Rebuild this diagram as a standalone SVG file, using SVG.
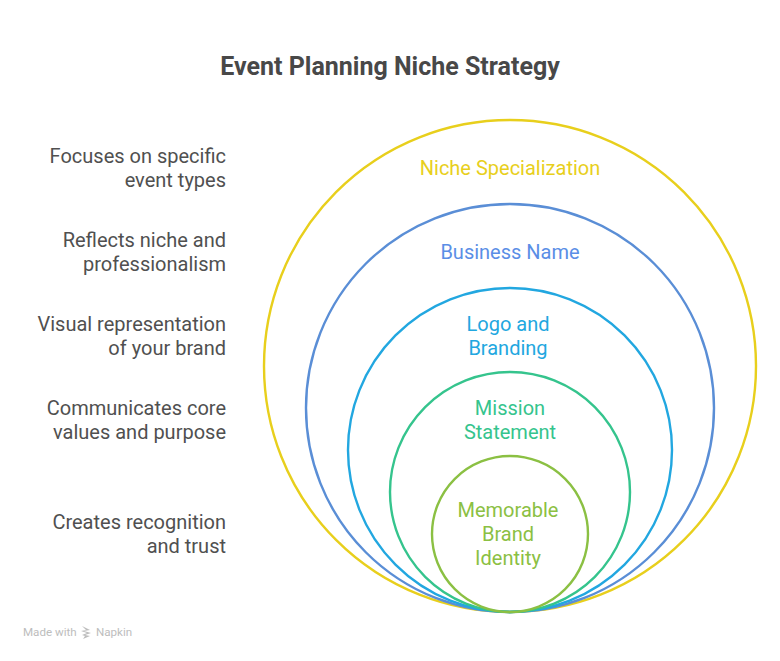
<svg xmlns="http://www.w3.org/2000/svg" width="780" height="661" viewBox="0 0 780 661">
<style>
text{font-family:Roboto,"Liberation Sans",sans-serif;font-size:20px}
.t{font-size:25px;font-weight:700;fill:#484848;text-anchor:middle;font-family:Roboto,"Liberation Sans",sans-serif}
.d{fill:#505050;text-anchor:end}
.c{text-anchor:middle}
circle{fill:none;stroke-width:2.4}
</style>
<rect width="780" height="661" fill="#fff"/>
<text class="t" x="390" y="75">Event Planning Niche Strategy</text>
<g id="node-niche"><circle cx="510" cy="366" r="246" stroke="#e8cf1c"/><text class="c" x="510" y="175" fill="#e8cf1c">Niche Specialization</text></g>
<g id="node-name"><circle cx="510" cy="408" r="204" stroke="#5a8ed6"/><text class="c" x="510" y="259" fill="#5a8ee6">Business Name</text></g>
<g id="node-logo"><circle cx="510" cy="450" r="162" stroke="#22a7e0"/><text class="c" fill="#22a7e0"><tspan x="508" y="331">Logo and</tspan><tspan x="508" y="355">Branding</tspan></text></g>
<g id="node-mission"><circle cx="510" cy="492" r="120" stroke="#35c48d"/><text class="c" fill="#35c48d"><tspan x="510" y="415">Mission</tspan><tspan x="510" y="439">Statement</tspan></text></g>
<g id="node-identity"><circle cx="510" cy="534" r="78" stroke="#8bc043"/><text class="c" fill="#8bc043"><tspan x="508" y="517">Memorable</tspan><tspan x="508" y="541">Brand</tspan><tspan x="508" y="565">Identity</tspan></text></g>
<g id="labels">
<text class="d"><tspan x="226" y="163">Focuses on specific</tspan><tspan x="226" y="187">event types</tspan></text>
<text class="d"><tspan x="226" y="247">Reflects niche and</tspan><tspan x="226" y="271">professionalism</tspan></text>
<text class="d"><tspan x="226" y="331">Visual representation</tspan><tspan x="226" y="355">of your brand</tspan></text>
<text class="d"><tspan x="226" y="415">Communicates core</tspan><tspan x="226" y="439">values and purpose</tspan></text>
<text class="d"><tspan x="226" y="529">Creates recognition</tspan><tspan x="226" y="553">and trust</tspan></text>
</g>
<g id="watermark" fill="#bdbdbd"><text x="23" y="636" style="font-size:11.6px">Made with</text>
<path d="M82 626l8 4-6 1 7 2-6 2 5 1-7 3 2-3-3-1 5-2-6-2 5-1z"/>
<text x="96" y="636" style="font-size:11.6px">Napkin</text></g>
</svg>
